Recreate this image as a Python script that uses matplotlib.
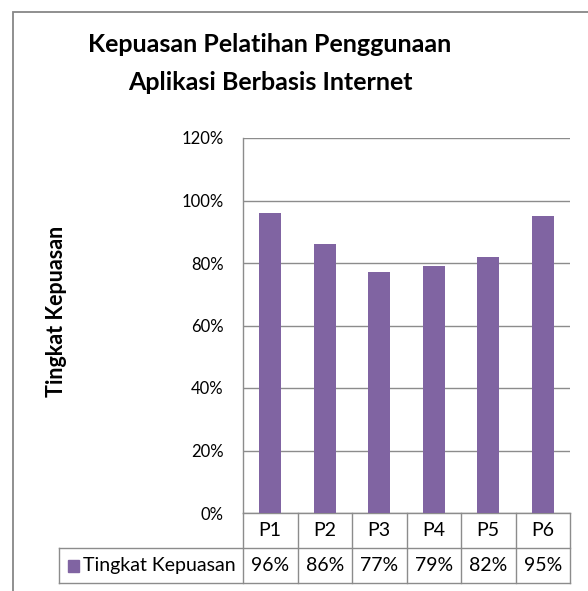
import numpy as np
import matplotlib.pyplot as plt
from matplotlib.lines import Line2D
from matplotlib.patches import Rectangle
from matplotlib.ticker import PercentFormatter
import matplotlib.transforms as mtransforms

plt.rcParams['font.family'] = ['Lato', 'DejaVu Sans']

categories = ['P1', 'P2', 'P3', 'P4', 'P5', 'P6']
values = [96, 86, 77, 79, 82, 95]
series_name = 'Tingkat Kepuasan'
title_lines = ['Kepuasan Pelatihan Penggunaan', 'Aplikasi Berbasis Internet']
y_ticks = [0, 20, 40, 60, 80, 100, 120]

BAR_COLOR = '#8064A2'
GRID_COLOR = '#8c8c8c'
W, H = 588, 591

fig = plt.figure(figsize=(W / 100, H / 100), dpi=100)

# outer chart frame (runs past the right / bottom edge of the picture)
fig.patches.append(Rectangle((13 / W, -0.05), 1.0, 1 - 12 / H + 0.05,
                             transform=fig.transFigure, fill=False,
                             edgecolor='#878787', linewidth=1.3))

# plot area in pixels: left 243, right 570, top 138, bottom 513
ax = fig.add_axes([243 / W, (H - 513) / H, 327 / W, 375 / H])
x = np.arange(len(categories))
ax.bar(x, values, width=0.4, color=BAR_COLOR, zorder=3)
ax.set_xlim(-0.5, len(categories) - 0.5)
ax.set_ylim(0, 120)
ax.set_yticks(y_ticks)
ax.yaxis.set_major_formatter(PercentFormatter(decimals=0))
ax.tick_params(axis='y', length=0, pad=14, labelsize=12, colors='black')
ax.set_xticks([])
ax.grid(axis='y', color=GRID_COLOR, linewidth=1.0, zorder=0)
for s in ['top', 'right', 'bottom']:
    ax.spines[s].set_visible(False)
ax.spines['left'].set_color(GRID_COLOR)
ax.spines['left'].set_linewidth(1.0)

ax.set_ylabel('Tingkat Kepuasan', fontsize=15.5, fontweight='bold', labelpad=0)
ax.yaxis.set_label_coords((67 - 243) / 327, (513 - 311) / 375)

fig.text(270 / W, 1 - 45 / H, title_lines[0], ha='center', va='center',
         fontsize=18, fontweight='bold')
fig.text(270 / W, 1 - 82 / H, title_lines[1], ha='center', va='center',
         fontsize=18, fontweight='bold')

# data table below the axis
row_h = 35 / 375
leg_left = (59 - 243) / 327
tr = ax.transAxes
blend = mtransforms.blended_transform_factory(ax.transData, ax.transAxes)

def hline(x0, x1, y):
    ax.add_line(Line2D([x0, x1], [y, y], transform=tr, color=GRID_COLOR,
                       linewidth=1.0, clip_on=False))

def vline(xv, y0, y1, trans):
    ax.add_line(Line2D([xv, xv], [y0, y1], transform=trans, color=GRID_COLOR,
                       linewidth=1.0, clip_on=False))

hline(0, 1, 0)
hline(leg_left, 1, -row_h)
hline(leg_left, 1, -2 * row_h)
vline(leg_left, -row_h, -2 * row_h, tr)
for xb in np.arange(len(categories) + 1) - 0.5:
    vline(xb, 0, -2 * row_h, blend)

for xi, cat, val in zip(x, categories, values):
    ax.text(xi, -row_h / 2, cat, transform=blend, ha='center', va='center',
            fontsize=14)
    ax.text(xi, -1.5 * row_h, f'{val}%', transform=blend, ha='center',
            va='center', fontsize=14)

# legend key inside the table
ax.add_patch(Rectangle(((68 - 243) / 327, -1.5 * row_h - 6 / 375), 11 / 327,
                       12 / 375, transform=tr, color=BAR_COLOR, clip_on=False))
ax.text((83 - 243) / 327, -1.5 * row_h, series_name, transform=tr,
        ha='left', va='center', fontsize=14)

fig.savefig('out.png', dpi=100)
